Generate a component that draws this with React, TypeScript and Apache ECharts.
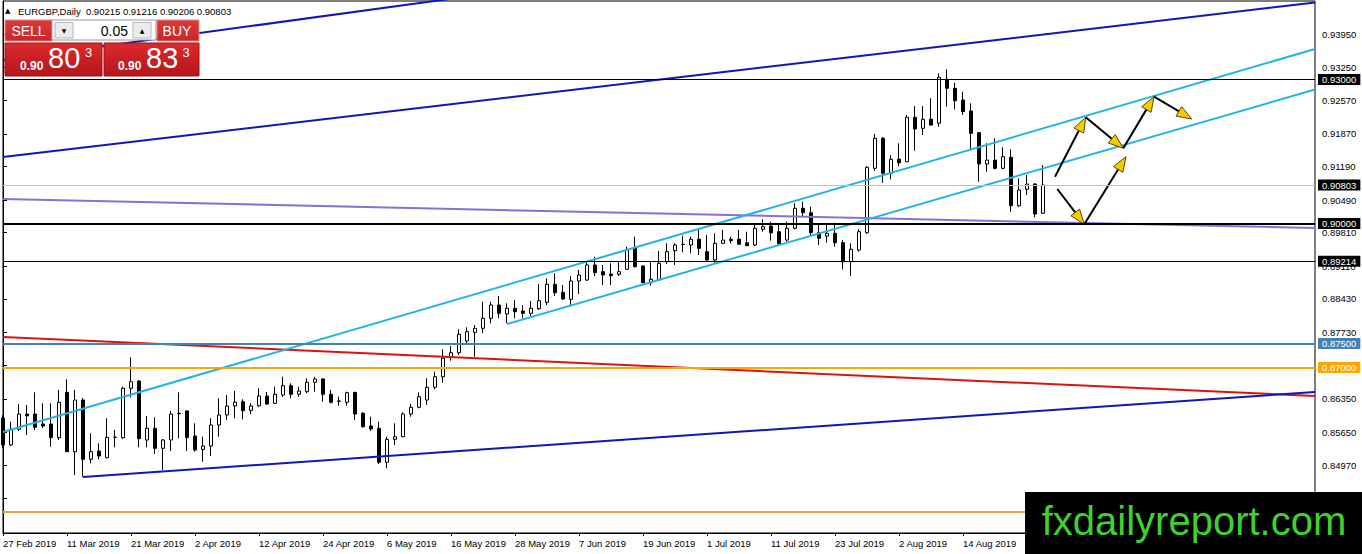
import React, { useEffect, useRef } from "react";
import * as echarts from "echarts";

const SYMBOL = "EURGBP,Daily";
const LOT = "0.05";
const BID = 0.90803;
const ASK = 0.90833;
const WATERMARK = "fxdailyreport.com";

const xTickLabels = [
  "27 Feb 2019", "11 Mar 2019", "21 Mar 2019", "2 Apr 2019", "12 Apr 2019", "24 Apr 2019",
  "6 May 2019", "16 May 2019", "28 May 2019", "7 Jun 2019", "19 Jun 2019", "1 Jul 2019",
  "11 Jul 2019", "23 Jul 2019", "2 Aug 2019", "14 Aug 2019",
];
const TICK_EVERY = 8;
const FUTURE_BARS = 34;

const yTickValues = [
  0.9395, 0.9325, 0.9257, 0.9187, 0.9119, 0.9049, 0.8981, 0.8911, 0.8843, 0.8773,
  0.8705, 0.8635, 0.8565, 0.8497, 0.8427,
];
const Y_MIN = 0.835542;
const Y_MAX = 0.946375;

// [open, high, low, close]
const candles: number[][] = [
  [0.8595, 0.86013, 0.85325, 0.85388],
  [0.85388, 0.85873, 0.85367, 0.85715],
  [0.85715, 0.86242, 0.85679, 0.86033],
  [0.86033, 0.86221, 0.85596, 0.85992],
  [0.86033, 0.86485, 0.857, 0.85756],
  [0.85825, 0.86256, 0.85742, 0.85783],
  [0.85825, 0.86256, 0.85352, 0.8554],
  [0.8554, 0.86533, 0.85492, 0.86277],
  [0.86485, 0.86756, 0.85242, 0.85248],
  [0.85248, 0.86533, 0.84763, 0.86325],
  [0.86325, 0.86367, 0.84727, 0.8509],
  [0.8509, 0.85631, 0.85006, 0.85248],
  [0.85263, 0.85423, 0.8509, 0.85158],
  [0.85123, 0.85944, 0.8511, 0.85548],
  [0.85548, 0.857, 0.8534, 0.8555],
  [0.8554, 0.86602, 0.85519, 0.86569],
  [0.86569, 0.87215, 0.86381, 0.86706],
  [0.86721, 0.8674, 0.8534, 0.85519],
  [0.85492, 0.85992, 0.8534, 0.85735],
  [0.85735, 0.85965, 0.852, 0.85319],
  [0.85319, 0.85513, 0.84867, 0.85492],
  [0.85492, 0.86096, 0.85263, 0.86033],
  [0.86048, 0.86485, 0.85527, 0.8604],
  [0.86096, 0.8611, 0.85263, 0.8554],
  [0.85575, 0.8584, 0.85248, 0.85283],
  [0.85298, 0.8556, 0.8504, 0.85367],
  [0.85367, 0.85944, 0.85158, 0.85804],
  [0.85804, 0.8636, 0.8556, 0.86013],
  [0.86013, 0.86429, 0.85908, 0.862],
  [0.862, 0.86513, 0.85944, 0.86277],
  [0.8629, 0.8634, 0.85923, 0.86102],
  [0.8611, 0.86256, 0.86033, 0.862],
  [0.86206, 0.86569, 0.86185, 0.86408],
  [0.86408, 0.86492, 0.86221, 0.86242],
  [0.86256, 0.86602, 0.86242, 0.86444],
  [0.86429, 0.8681, 0.86388, 0.86623],
  [0.86623, 0.86673, 0.8636, 0.86444],
  [0.86444, 0.86602, 0.86394, 0.86513],
  [0.86498, 0.86777, 0.86465, 0.86694],
  [0.86694, 0.8681, 0.86498, 0.86763],
  [0.86763, 0.86783, 0.8629, 0.86444],
  [0.86444, 0.86533, 0.86256, 0.86277],
  [0.86304, 0.86394, 0.86206, 0.863],
  [0.86277, 0.86498, 0.86206, 0.86477],
  [0.86485, 0.86492, 0.85908, 0.86033],
  [0.86048, 0.86075, 0.85748, 0.85769],
  [0.85783, 0.85977, 0.85679, 0.85721],
  [0.85735, 0.85873, 0.84992, 0.85027],
  [0.85027, 0.8556, 0.84902, 0.85506],
  [0.85506, 0.8584, 0.85388, 0.8556],
  [0.8556, 0.86069, 0.85554, 0.86033],
  [0.86033, 0.86242, 0.85977, 0.86173],
  [0.86173, 0.86485, 0.86152, 0.86394],
  [0.86325, 0.86777, 0.86221, 0.8659],
  [0.8659, 0.86915, 0.86548, 0.8681],
  [0.8681, 0.87381, 0.86685, 0.87194],
  [0.87215, 0.8745, 0.87144, 0.8731],
  [0.8731, 0.87798, 0.87263, 0.87694],
  [0.87554, 0.8784, 0.87471, 0.87748],
  [0.87735, 0.87888, 0.87227, 0.87819],
  [0.87819, 0.88373, 0.87715, 0.88027],
  [0.88027, 0.88373, 0.87923, 0.88304],
  [0.88304, 0.88492, 0.88027, 0.88131],
  [0.88117, 0.8834, 0.87923, 0.88235],
  [0.88235, 0.88408, 0.88027, 0.88165],
  [0.88179, 0.88304, 0.88027, 0.88131],
  [0.88131, 0.88388, 0.88075, 0.88235],
  [0.88227, 0.88742, 0.882, 0.88394],
  [0.8836, 0.8886, 0.88304, 0.88735],
  [0.88735, 0.88965, 0.88492, 0.8856],
  [0.88569, 0.88721, 0.88408, 0.88429],
  [0.88423, 0.88908, 0.88304, 0.88804],
  [0.88804, 0.89033, 0.88533, 0.88929],
  [0.88825, 0.89206, 0.88804, 0.89138],
  [0.89138, 0.8931, 0.88908, 0.88977],
  [0.88998, 0.89138, 0.88721, 0.88929],
  [0.8895, 0.89173, 0.88721, 0.88915],
  [0.88944, 0.89206, 0.88908, 0.88998],
  [0.89048, 0.89519, 0.89033, 0.8945],
  [0.89485, 0.89727, 0.8909, 0.89102],
  [0.89117, 0.8913, 0.88756, 0.88769],
  [0.88769, 0.89206, 0.88706, 0.8884],
  [0.88825, 0.89429, 0.8881, 0.89173],
  [0.89206, 0.8959, 0.89158, 0.89415],
  [0.89435, 0.8959, 0.89138, 0.89554],
  [0.89569, 0.89748, 0.89402, 0.89565],
  [0.89554, 0.89727, 0.89381, 0.89673],
  [0.89673, 0.89881, 0.89346, 0.89485],
  [0.89415, 0.89763, 0.89221, 0.89242],
  [0.89242, 0.89798, 0.89185, 0.8959],
  [0.8959, 0.89867, 0.89575, 0.89658],
  [0.89673, 0.89727, 0.8959, 0.89644],
  [0.89673, 0.89867, 0.89554, 0.89569],
  [0.89602, 0.89831, 0.89533, 0.8954],
  [0.89554, 0.90006, 0.89533, 0.89902],
  [0.89881, 0.9009, 0.89831, 0.89935],
  [0.8995, 0.9004, 0.89644, 0.8981],
  [0.89831, 0.90006, 0.89569, 0.89575],
  [0.89658, 0.9004, 0.89623, 0.89902],
  [0.89902, 0.90423, 0.89881, 0.90319],
  [0.90319, 0.90456, 0.90144, 0.90227],
  [0.90227, 0.90352, 0.89763, 0.8981],
  [0.8981, 0.90006, 0.89554, 0.89694],
  [0.89742, 0.89971, 0.89602, 0.89798],
  [0.89798, 0.90019, 0.89519, 0.89602],
  [0.89602, 0.89658, 0.89048, 0.89206],
  [0.89206, 0.8959, 0.88908, 0.89465],
  [0.8945, 0.89881, 0.89415, 0.89831],
  [0.8981, 0.912, 0.89783, 0.91173],
  [0.91152, 0.91867, 0.91102, 0.91777],
  [0.91777, 0.91804, 0.90852, 0.91048],
  [0.91048, 0.91429, 0.90923, 0.9134],
  [0.9134, 0.91673, 0.912, 0.91269],
  [0.9129, 0.92263, 0.91283, 0.92215],
  [0.92215, 0.9245, 0.91519, 0.91971],
  [0.91985, 0.9245, 0.91846, 0.92173],
  [0.92173, 0.9261, 0.9204, 0.92054],
  [0.9209, 0.93131, 0.92019, 0.93048],
  [0.93006, 0.93215, 0.92435, 0.92819],
  [0.92819, 0.92935, 0.92381, 0.9256],
  [0.92575, 0.92748, 0.92263, 0.92331],
  [0.92346, 0.92506, 0.91548, 0.91881],
  [0.91894, 0.91908, 0.90873, 0.91242],
  [0.91242, 0.91673, 0.91081, 0.91325],
  [0.91325, 0.91777, 0.91131, 0.91152],
  [0.91152, 0.9159, 0.91131, 0.91394],
  [0.91381, 0.91548, 0.90248, 0.90373],
  [0.90373, 0.90944, 0.90352, 0.907],
  [0.90715, 0.91013, 0.90596, 0.90825],
  [0.90825, 0.9084, 0.90131, 0.902],
  [0.90215, 0.91216, 0.90206, 0.90803],
];

// horizontal price levels
const levelPrices = [0.93, 0.90803, 0.9, 0.89214, 0.875, 0.87, 0.84];
const levelStyles = [
  { color: "#000000", width: 1, tag: "#000000" },
  { color: "#c0c0c0", width: 1, tag: "#000000" },
  { color: "#000000", width: 2, tag: "#000000" },
  { color: "#000000", width: 1, tag: "#000000" },
  { color: "#4682b4", width: 2, tag: "#4682b4" },
  { color: "#ffa500", width: 2, tag: "#ffa500" },
  { color: "#e8a33c", width: 2, tag: null },
];

// trend lines: [startBar, startPrice, endBar, endPrice]
const trendLines = [
  [0, 0.9341, 60, 0.94776],
  [0, 0.91388, 164, 0.94607],
  [0, 0.90513, 164, 0.89908],
  [0, 0.87638, 164, 0.86408],
  [10, 0.84721, 164, 0.86492],
  [0, 0.85658, 164, 0.93638],
  [63, 0.87908, 164, 0.92794],
];
const trendStyles = [
  { color: "#1414b8", width: 2 },
  { color: "#1414b8", width: 2 },
  { color: "#8a6fd8", width: 2 },
  { color: "#dd1111", width: 2 },
  { color: "#1414b8", width: 2 },
  { color: "#22b4e6", width: 2 },
  { color: "#22b4e6", width: 2 },
];

// arrows: [fromBar, fromPrice, toBar, toPrice]
const arrowSegments = [
  [131.5, 0.90977, 135.34, 0.92215],
  [135.34, 0.92215, 140.04, 0.91569],
  [140.04, 0.91569, 143.88, 0.92644],
  [143.88, 0.92644, 148.59, 0.92179],
  [131.79, 0.90721, 135.16, 0.89985],
  [135.16, 0.89985, 140.38, 0.91394],
];

const FONT = "'Liberation Sans', Arial, sans-serif";

function txt(text: string, x: number, y: number, size: number, fill: string, align = "left", weight = "normal", family = FONT) {
  return {
    type: "text",
    x,
    y,
    z: 101,
    silent: true,
    style: {
      text,
      fill,
      fontSize: size,
      fontFamily: family,
      fontWeight: weight,
      align,
      textAlign: align,
      verticalAlign: "middle",
      textVerticalAlign: "middle",
    },
  };
}

function rect(x: number, y: number, w: number, h: number, style: any) {
  return { type: "rect", z: 100, silent: true, shape: { x, y, width: w, height: h }, style };
}

function splitPrice(p: number) {
  const s = p.toFixed(5);
  return [s.slice(0, 4), s.slice(4, 6), s.slice(6)];
}

export default function App() {
  const ref = useRef<HTMLDivElement>(null);
  useEffect(() => {
    const el = ref.current;
    if (!el) return;
    const chart = echarts.init(el, null, { renderer: "svg" });
    const nBars = candles.length + FUTURE_BARS;
    const xMax = nBars - 1;
    const categories = Array.from({ length: nBars }, (_, i) => String(i));
    const last = candles[candles.length - 1];
    const header = `${SYMBOL}  ${last.map((v) => v.toFixed(5)).join(" ")}`;
    const [bidPre, bidBig, bidSup] = splitPrice(BID);
    const [askPre, askBig, askSup] = splitPrice(ASK);

    const boxGrad = new echarts.graphic.LinearGradient(0, 0, 0, 1, [
      { offset: 0, color: "#dc2a2e" },
      { offset: 1, color: "#b3161a" },
    ]);
    const btnGrad = new echarts.graphic.LinearGradient(0, 0, 0, 1, [
      { offset: 0, color: "#dd3a38" },
      { offset: 1, color: "#c8262a" },
    ]);

    const option: any = {
      animation: false,
      backgroundColor: "#ffffff",
      textStyle: { fontFamily: FONT },
      grid: {
        left: 3,
        right: 47,
        top: 1,
        bottom: 21,
        show: true,
        borderColor: "#000",
        borderWidth: 1,
        backgroundColor: "transparent",
      },
      xAxis: [
        {
          type: "category",
          data: categories,
          boundaryGap: false,
          axisLine: { show: true, lineStyle: { color: "#000", width: 1 } },
          axisTick: { show: true, interval: TICK_EVERY - 1, length: 3, lineStyle: { color: "#000" } },
          axisLabel: {
            interval: TICK_EVERY - 1,
            formatter: (_v: string, i: number) => xTickLabels[i / TICK_EVERY] ?? "",
            align: "left",
            margin: 5,
            fontSize: 9.5,
            color: "#000",
            fontFamily: FONT,
          },
          splitLine: { show: false },
        },
        { type: "value", min: 0, max: xMax, show: false },
      ],
      yAxis: {
        type: "value",
        position: "right",
        min: Y_MIN,
        max: Y_MAX,
        axisLine: { show: true, lineStyle: { color: "#000", width: 1 } },
        axisTick: { show: true, customValues: yTickValues, length: 4, lineStyle: { color: "#000" } },
        axisLabel: {
          customValues: yTickValues,
          formatter: (v: number) => v.toFixed(5),
          margin: 7,
          fontSize: 9.5,
          color: "#000",
          fontFamily: FONT,
        },
        splitLine: { show: false },
      },
      series: [
        {
          type: "candlestick",
          xAxisIndex: 0,
          yAxisIndex: 0,
          z: 2,
          barWidth: 4,
          silent: true,
          data: candles.map((c) => [c[0], c[3], c[2], c[1]]),
          itemStyle: {
            color: "#ffffff",
            color0: "#000000",
            borderColor: "#000000",
            borderColor0: "#000000",
            borderWidth: 1,
          },
          markLine: {
            silent: true,
            precision: 5,
            symbol: ["none", "none"],
            data: levelPrices.map((p, i) => ({
              yAxis: p,
              lineStyle: { color: levelStyles[i].color, width: levelStyles[i].width, type: "solid" },
              label: levelStyles[i].tag
                ? {
                    show: true,
                    position: "end",
                    distance: 3,
                    formatter: () => p.toFixed(5),
                    color: "#ffffff",
                    backgroundColor: levelStyles[i].tag,
                    padding: [1, 4, 0, 4],
                    fontSize: 9.5,
                    fontFamily: FONT,
                    lineHeight: 10,
                  }
                : { show: false },
            })),
          },
        },
        ...trendLines.map((t, i) => ({
          type: "line",
          xAxisIndex: 1,
          yAxisIndex: 0,
          z: 3,
          silent: true,
          showSymbol: false,
          symbol: "none",
          clip: true,
          data: [
            [t[0], t[1]],
            [t[2], t[3]],
          ],
          lineStyle: { color: trendStyles[i].color, width: trendStyles[i].width },
        })),
        {
          type: "custom",
          xAxisIndex: 1,
          yAxisIndex: 0,
          z: 4,
          silent: true,
          encode: { x: [0, 2], y: [1, 3] },
          data: arrowSegments,
          renderItem: (_params: any, api: any) => {
            const a = api.coord([api.value(0), api.value(1)]);
            const b = api.coord([api.value(2), api.value(3)]);
            const dx = b[0] - a[0];
            const dy = b[1] - a[1];
            const len = Math.hypot(dx, dy) || 1;
            const ux = dx / len;
            const uy = dy / len;
            const hl = 15;
            const hw = 5.5;
            const bx = b[0] - ux * hl;
            const by = b[1] - uy * hl;
            return {
              type: "group",
              children: [
                {
                  type: "line",
                  shape: { x1: a[0], y1: a[1], x2: b[0] - ux * 4, y2: b[1] - uy * 4 },
                  style: { stroke: "#000", lineWidth: 2 },
                },
                {
                  type: "polygon",
                  shape: {
                    points: [
                      [b[0], b[1]],
                      [bx - uy * hw, by + ux * hw],
                      [bx + uy * hw, by - ux * hw],
                    ],
                  },
                  style: { fill: "#f8c800", stroke: "#5a4a00", lineWidth: 1 },
                },
              ],
            };
          },
        },
      ],
      graphic: [
        txt("\u25B2", 5, 11, 7, "#000", "left", "normal", "'DejaVu Sans', sans-serif"),
        txt(header, 18, 11, 9.5, "#000"),
        // SELL button
        rect(5, 20, 47, 21, { fill: btnGrad, stroke: "#e98686", lineWidth: 1 }),
        txt("SELL", 28.5, 30.5, 14, "#ffffff", "center"),
        // lot box
        rect(52, 20, 104, 20, { fill: "#ffffff", stroke: "#9a9a9a", lineWidth: 1 }),
        rect(55, 22.5, 18, 15.5, { fill: "#ececec", stroke: "#b8b8b8", lineWidth: 1 }),
        txt("\u25BC", 64, 30.5, 6, "#000", "center", "normal", "'DejaVu Sans', sans-serif"),
        rect(133, 22.5, 18, 15.5, { fill: "#ececec", stroke: "#b8b8b8", lineWidth: 1 }),
        txt("\u25B2", 142, 30, 6, "#000", "center", "normal", "'DejaVu Sans', sans-serif"),
        txt(LOT, 128, 30.5, 14, "#000", "right"),
        // BUY button
        rect(157, 20, 42, 21, { fill: btnGrad, stroke: "#e98686", lineWidth: 1 }),
        txt("BUY", 177, 30.5, 14, "#ffffff", "center"),
        // price boxes
        rect(5, 43, 97, 33, { fill: boxGrad, stroke: "#a01014", lineWidth: 1 }),
        rect(104, 43, 95, 33, { fill: boxGrad, stroke: "#a01014", lineWidth: 1 }),
        txt(bidPre, 20, 65.5, 12, "#ffffff", "left", "bold"),
        txt(bidBig, 48, 58, 29, "#ffffff"),
        txt(bidSup, 85, 52, 13, "#ffffff"),
        txt(askPre, 118, 65.5, 12, "#ffffff", "left", "bold"),
        txt(askBig, 146, 58, 29, "#ffffff"),
        txt(askSup, 182.5, 52, 13, "#ffffff"),
        // watermark
        rect(1025, 492, 337, 62, { fill: "#000000" }),
        txt(WATERMARK, 1194, 521, 40, "#3dd22c", "center"),
      ],
    };
    chart.setOption(option);
    return () => chart.dispose();
  }, []);
  return (
    <div
      ref={ref}
      style={{ position: "fixed", left: 0, top: 0, width: 1362, height: 554, background: "#ffffff" }}
    />
  );
}
